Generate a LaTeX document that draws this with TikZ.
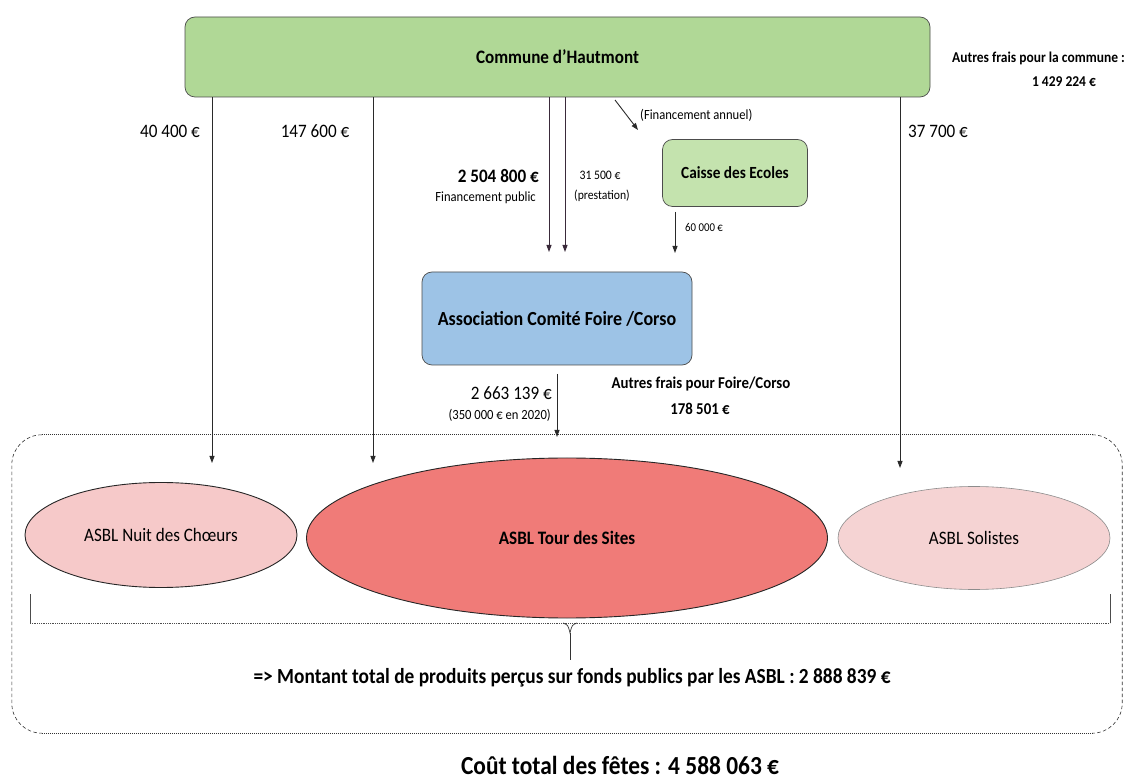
\documentclass[tikz,border=0pt]{standalone}
\usepackage{fontspec}
\setmainfont{Carlito}[FakeStretch=0.9]
\usetikzlibrary{arrows.meta,shapes.geometric}
\definecolor{cgreen}{HTML}{B0D896}
\definecolor{cgreenl}{HTML}{C4E3AE}
\definecolor{cblue}{HTML}{9DC3E6}
\definecolor{cpink}{HTML}{F6C9C9}
\definecolor{csalmon}{HTML}{F07B78}
\definecolor{cpinkl}{HTML}{F5D3D3}
\definecolor{cline}{HTML}{2A2A2A}
\definecolor{cpurp}{HTML}{3A2A3A}
\tikzset{
  arr/.style={draw=cline, line width=0.9pt, -{Triangle[length=7pt,width=5pt]}},
  boxnode/.style={draw=black!70, line width=0.7pt, rounded corners=10pt, inner sep=0pt},
  ell/.style={ellipse, draw=black!85, line width=0.9pt, inner sep=0pt},
  txt/.style={inner sep=0pt, text=black},
  fb/.style={font=\fontsize{#1}{#1}\selectfont\bfseries},
  fr/.style={font=\fontsize{#1}{#1}\selectfont},
  frameside/.style={draw=black!80, line width=0.6pt, dash pattern=on 3.5pt off 2.5pt},
  framedot/.style={draw=black!80, line width=0.7pt, dash pattern=on 1pt off 1pt},
}
\begin{document}
\begin{tikzpicture}[x=1pt,y=-1pt]
\useasboundingbox[fill=white] (0,0) rectangle (1128,783);

% main boxes
\node[boxnode, fill=cgreen, minimum width=745pt, minimum height=80pt, fb=19] (commune) at (557.5,57) {Commune d’Hautmont};
\node[boxnode, fill=cgreenl, minimum width=145pt, minimum height=67pt, fb=17] (caisse) at (735,173) {Caisse des Ecoles};
\node[boxnode, fill=cblue, minimum width=270pt, minimum height=93pt, fb=20] (asso) at (557,318.5) {Association Comité Foire /Corso};

% dashed frame (sides dashed, top and bottom dotted)
\node[minimum width=1110pt, minimum height=298pt, inner sep=0pt] (zone) at (567,584) {};
\draw[frameside] ([xshift=30pt]zone.north west) arc[start angle=90, end angle=180, radius=30pt] -- ([yshift=30pt]zone.south west) arc[start angle=180, end angle=270, radius=30pt];
\draw[frameside] ([xshift=-30pt]zone.north east) arc[start angle=90, end angle=0, radius=30pt] -- ([yshift=30pt]zone.south east) arc[start angle=0, end angle=-90, radius=30pt];
\draw[framedot] ([xshift=30pt]zone.north west) -- ([xshift=-30pt]zone.north east);
\draw[framedot] ([xshift=30pt]zone.south west) -- ([xshift=-30pt]zone.south east);

% ellipses
\node[ell, fill=cpink, minimum width=272pt, minimum height=105pt, fr=19] (nuit) at (161,535) {ASBL Nuit des Chœurs};
\node[ell, fill=csalmon, minimum width=521pt, minimum height=160pt, fb=19] (tour) at (567,538) {ASBL Tour des Sites};
\node[ell, draw=black!45, line width=0.6pt, fill=cpinkl, minimum width=272pt, minimum height=103pt, fr=19] (soli) at (974,538) {ASBL Solistes};

% arrow end points
\coordinate (e1) at (212,463);
\coordinate (e2) at (373,463);
\coordinate (e3) at (900,468);
\coordinate (e4) at (549,252);
\coordinate (e5) at (565,252);
\coordinate (d1) at (615,100);
\coordinate (d2) at (638,130);
\coordinate (c1) at (675,212);
\coordinate (c2) at (675,253);
\coordinate (a1) at (557,374);
\coordinate (a2) at (557,437);

\draw[arr] (commune.south -| e1) -- (e1);
\draw[arr] (commune.south -| e2) -- (e2);
\draw[arr] (commune.south -| e3) -- (e3);
\draw[arr, draw=cpurp] (commune.south -| e4) -- (e4);
\draw[arr, draw=cpurp] (commune.south -| e5) -- (e5);
\draw[arr] (d1) -- (d2);
\draw[arr] (c1) -- (c2);
\draw[arr] (a1) -- (a2);

% labels
\node[txt, fb=15, anchor=east] (autres1) at (1125,58) {Autres frais pour la commune :};
\node[txt, fb=15] (autres2) at (1064,82) {1 429 224 €};
\node[txt, fr=19] (l40) at (170,131) {40 400 €};
\node[txt, fr=19] (l147) at (315,131) {147 600 €};
\node[txt, fr=19] (l37) at (938,131) {37 700 €};
\node[txt, fb=19, anchor=east] (l2504) at (539,176) {2 504 800 €};
\node[txt, fr=14, anchor=east] (lfp) at (536,198) {Financement public};
\node[txt, fr=13] (l315) at (600,175) {31 500 €};
\node[txt, fr=13] (lpre) at (602,196) {(prestation)};
\node[txt, fr=14, anchor=west] (lfa) at (640,115) {(Financement annuel)};
\node[txt, fr=12, anchor=west] (l60) at (685,227) {60 000 €};
\node[txt, fr=19, anchor=east] (l266) at (552,393) {2 663 139 €};
\node[txt, fr=14, anchor=east] (l350) at (551,415) {(350 000 € en 2020)};
\node[txt, fb=16.5] (lfc1) at (701,384) {Autres frais pour Foire/Corso};
\node[txt, fb=16.5] (lfc2) at (700,409) {178 501 €};

% bracket under ellipses
\coordinate (bl) at (30,594);
\coordinate (br) at (1110,594);
\coordinate (bm) at (570,633);
\coordinate (bt) at (570,660);
\draw[black!70, line width=0.6pt] (bl) -- (30,623);
\draw[black!70, line width=0.6pt] (br) -- (1110,623);
\draw[black!70, line width=0.7pt, dash pattern=on 1pt off 0.8pt] (30,623) -- (1110,623);
\draw[black!80, line width=0.7pt] (563,623) .. controls (568,625) .. (bm) .. controls (572,625) .. (577,623);
\draw[black!80, line width=0.7pt] (bm) -- (bt);

\node[txt, fb=21.5] (total) at (572,678) {=> Montant total de produits perçus sur fonds publics par les ASBL : 2 888 839 €};
\node[txt, fb=26] (cout) at (620,765) {Coût total des fêtes : 4 588 063 €};
\end{tikzpicture}
\end{document}
